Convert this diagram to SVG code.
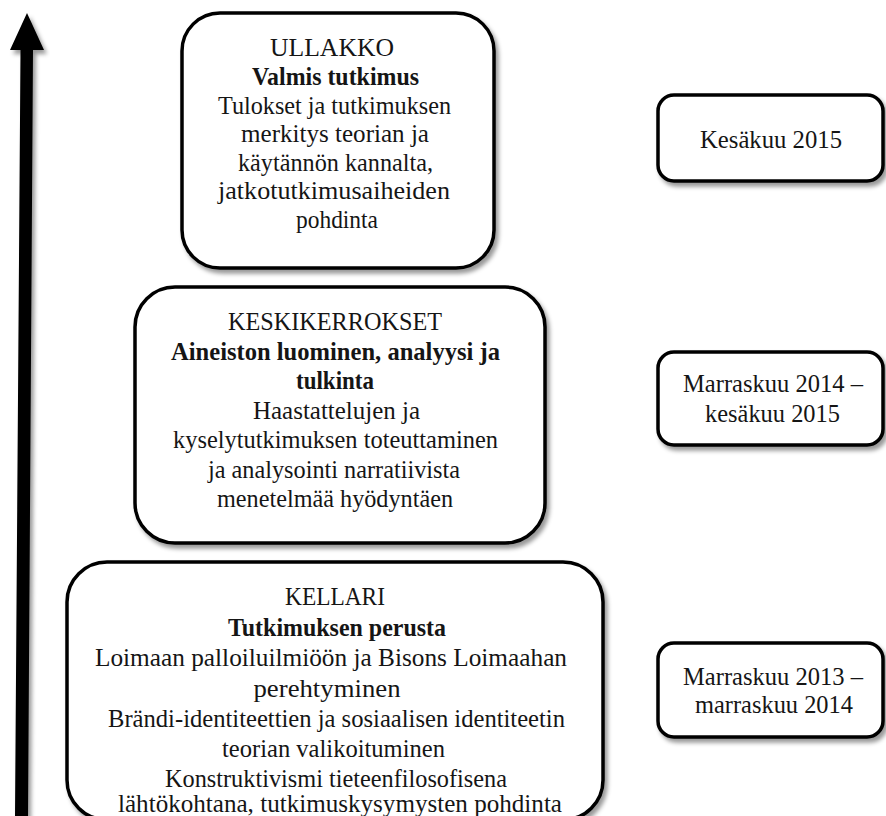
<svg xmlns="http://www.w3.org/2000/svg" width="886" height="816" viewBox="0 0 886 816">
  <defs>
    <filter id="shadow" x="-10%" y="-10%" width="125%" height="125%">
      <feDropShadow dx="3" dy="4" stdDeviation="2" flood-color="#000" flood-opacity="0.4"/>
    </filter>
    <style>
      .box { fill: #fff; stroke: #000; stroke-width: 3.5; filter: url(#shadow); }
      .t { font-family: "Liberation Serif", "Times New Roman", serif; font-size: 25px; fill: #151515; text-anchor: middle; }
      .b { font-weight: bold; }
    </style>
  </defs>

  <!-- vertical time axis -->
  <g id="connectors">
    <polygon points="27,13 44,50 33,50 28,816 15,816 20.5,50 10,50" fill="#000" filter="url(#shadow)"/>
  </g>

  <!-- top level: finished study -->
  <g id="ullakko">
    <rect class="box" x="182" y="13" width="312" height="255" rx="38"/>
    <text class="t" x="332" y="56" textLength="124" lengthAdjust="spacingAndGlyphs">ULLAKKO</text>
    <text class="t b" x="335.5" y="85" textLength="167" lengthAdjust="spacingAndGlyphs">Valmis tutkimus</text>
    <text class="t" x="334.5" y="113.5" textLength="233" lengthAdjust="spacingAndGlyphs">Tulokset ja tutkimuksen</text>
    <text class="t" x="335" y="142" textLength="188" lengthAdjust="spacingAndGlyphs">merkitys teorian ja</text>
    <text class="t" x="335.5" y="170.5" textLength="195" lengthAdjust="spacingAndGlyphs">käytännön kannalta,</text>
    <text class="t" x="334" y="199" textLength="232" lengthAdjust="spacingAndGlyphs">jatkotutkimusaiheiden</text>
    <text class="t" x="337" y="227.5" textLength="82" lengthAdjust="spacingAndGlyphs">pohdinta</text>
  </g>

  <!-- middle level: data and analysis -->
  <g id="keskikerrokset">
    <rect class="box" x="135" y="287" width="410" height="256" rx="40"/>
    <text class="t" x="335" y="330" textLength="214" lengthAdjust="spacingAndGlyphs">KESKIKERROKSET</text>
    <text class="t b" x="335.5" y="359.5" textLength="329" lengthAdjust="spacingAndGlyphs">Aineiston luominen, analyysi ja</text>
    <text class="t b" x="335" y="389" textLength="78" lengthAdjust="spacingAndGlyphs">tulkinta</text>
    <text class="t" x="336.5" y="418.5" textLength="167" lengthAdjust="spacingAndGlyphs">Haastattelujen ja</text>
    <text class="t" x="335.5" y="448" textLength="325" lengthAdjust="spacingAndGlyphs">kyselytutkimuksen toteuttaminen</text>
    <text class="t" x="334" y="477.5" textLength="252" lengthAdjust="spacingAndGlyphs">ja analysointi narratiivista</text>
    <text class="t" x="335" y="507" textLength="236" lengthAdjust="spacingAndGlyphs">menetelmää hyödyntäen</text>
  </g>

  <!-- bottom level: foundation (runs past the lower edge) -->
  <g id="kellari">
    <rect class="box" x="67" y="562" width="536" height="258" rx="40"/>
    <text class="t" x="335" y="605" textLength="100" lengthAdjust="spacingAndGlyphs">KELLARI</text>
    <text class="t b" x="337" y="635.5" textLength="218" lengthAdjust="spacingAndGlyphs">Tutkimuksen perusta</text>
    <text class="t" x="331" y="666" textLength="472" lengthAdjust="spacingAndGlyphs">Loimaan palloiluilmiöön ja Bisons Loimaahan</text>
    <text class="t" x="327" y="696.5" textLength="147" lengthAdjust="spacingAndGlyphs">perehtyminen</text>
    <text class="t" x="336.5" y="727" textLength="457" lengthAdjust="spacingAndGlyphs">Brändi-identiteettien ja sosiaalisen identiteetin</text>
    <text class="t" x="333.5" y="757" textLength="223" lengthAdjust="spacingAndGlyphs">teorian valikoituminen</text>
    <text class="t" x="336" y="787" textLength="342" lengthAdjust="spacingAndGlyphs">Konstruktivismi tieteenfilosofisena</text>
    <text class="t" x="340" y="812" textLength="444" lengthAdjust="spacingAndGlyphs">lähtökohtana, tutkimuskysymysten pohdinta</text>
  </g>

  <!-- schedule -->
  <g id="date-2015">
    <rect class="box" x="658" y="95" width="225" height="86" rx="16"/>
    <text class="t" x="771" y="148" textLength="142" lengthAdjust="spacingAndGlyphs">Kesäkuu 2015</text>
  </g>
  <g id="date-2014-2015">
    <rect class="box" x="658" y="352" width="225" height="93" rx="16"/>
    <text class="t" x="773" y="392" textLength="180" lengthAdjust="spacingAndGlyphs">Marraskuu 2014 –</text>
    <text class="t" x="772.5" y="422" textLength="135" lengthAdjust="spacingAndGlyphs">kesäkuu 2015</text>
  </g>
  <g id="date-2013-2014">
    <rect class="box" x="658" y="643" width="225" height="94" rx="16"/>
    <text class="t" x="773" y="685" textLength="180" lengthAdjust="spacingAndGlyphs">Marraskuu 2013 –</text>
    <text class="t" x="774" y="713" textLength="158" lengthAdjust="spacingAndGlyphs">marraskuu 2014</text>
  </g>
</svg>
